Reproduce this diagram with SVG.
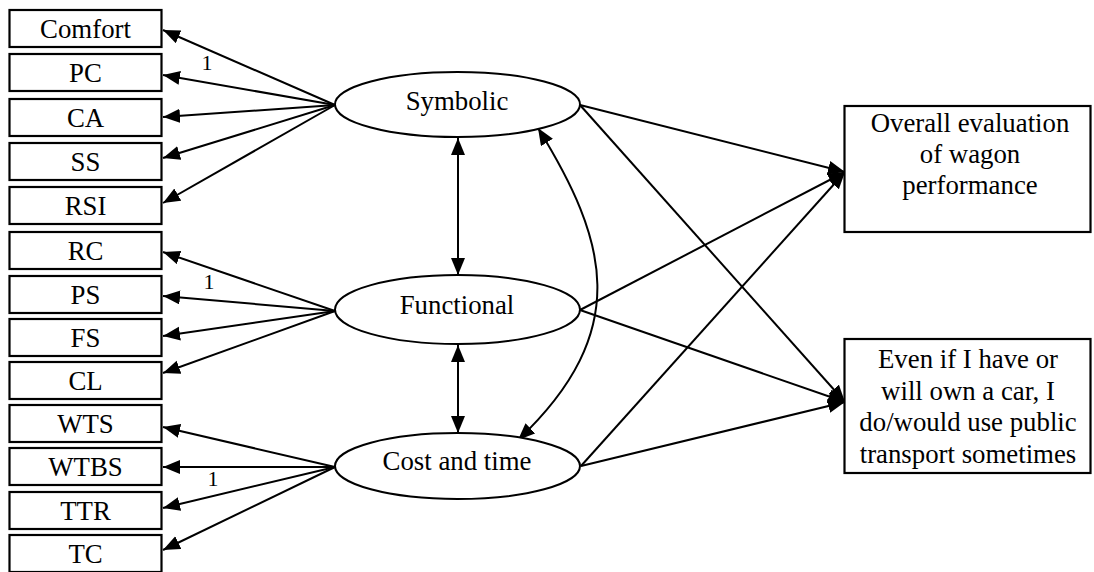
<svg xmlns="http://www.w3.org/2000/svg" width="1094" height="572" viewBox="0 0 1094 572">
<style>
  .box { fill: #fff; stroke: #000; stroke-width: 2.2; }
  .ell { fill: #fff; stroke: #000; stroke-width: 2; }
  .t { font-family: "Liberation Serif", "Times New Roman", serif; font-size: 26.8px; fill: #000; text-anchor: middle; }
  .n { font-family: "Liberation Serif", "Times New Roman", serif; font-size: 22px; fill: #000; text-anchor: middle; }
  .c { fill: none; stroke: #000; stroke-width: 2; }
  .a { marker-end: url(#ah); }
  .b { marker-start: url(#ah); marker-end: url(#ah); }
</style>
<defs>
  <marker id="ah" markerUnits="userSpaceOnUse" markerWidth="20" markerHeight="16" refX="17" refY="7" orient="auto-start-reverse">
    <path d="M0,0 L17,7 L0,14 z" fill="#000"/>
  </marker>
</defs>
<rect width="1094" height="572" fill="#fff"/>

<g id="connectors">
  <line class="c a" x1="335" y1="105" x2="163" y2="30"/>
  <line class="c a" x1="335" y1="105" x2="163" y2="75"/>
  <line class="c a" x1="335" y1="105" x2="163" y2="117"/>
  <line class="c a" x1="335" y1="105" x2="163" y2="158"/>
  <line class="c a" x1="335" y1="105" x2="163" y2="203"/>
  <line class="c a" x1="335" y1="311" x2="163" y2="252"/>
  <line class="c a" x1="335" y1="311" x2="163" y2="296"/>
  <line class="c a" x1="335" y1="311" x2="163" y2="336"/>
  <line class="c a" x1="335" y1="311" x2="163" y2="373"/>
  <line class="c a" x1="335" y1="467" x2="163" y2="427"/>
  <line class="c a" x1="335" y1="467" x2="163" y2="467"/>
  <line class="c a" x1="335" y1="467" x2="163" y2="508"/>
  <line class="c a" x1="335" y1="467" x2="163" y2="550"/>
  <line class="c b" x1="458" y1="138" x2="458" y2="275"/>
  <line class="c b" x1="458" y1="345" x2="458" y2="433"/>
  <path class="c b" d="M538,128 C607,240 634,330 518,440"/>
  <line class="c a" x1="580" y1="105" x2="845" y2="172"/>
  <line class="c a" x1="580" y1="105" x2="845" y2="402"/>
  <line class="c a" x1="580" y1="310" x2="845" y2="172"/>
  <line class="c a" x1="580" y1="310" x2="845" y2="402"/>
  <line class="c a" x1="581" y1="466" x2="845" y2="172"/>
  <line class="c a" x1="581" y1="466" x2="845" y2="402"/>
  <text class="n" x="207" y="70">1</text>
  <text class="n" x="209" y="289">1</text>
  <text class="n" x="213" y="486">1</text>
</g>

<g id="comfort"><rect class="box" x="9.5" y="10" width="152" height="37"/><text class="t" x="85.5" y="38">Comfort</text></g>
<g id="pc"><rect class="box" x="9.5" y="54" width="152" height="37"/><text class="t" x="85.5" y="82">PC</text></g>
<g id="ca"><rect class="box" x="9.5" y="99" width="152" height="37"/><text class="t" x="85.5" y="127">CA</text></g>
<g id="ss"><rect class="box" x="9.5" y="143" width="152" height="37"/><text class="t" x="85.5" y="171">SS</text></g>
<g id="rsi"><rect class="box" x="9.5" y="187" width="152" height="37"/><text class="t" x="85.5" y="215">RSI</text></g>
<g id="rc"><rect class="box" x="9.5" y="232" width="152" height="37"/><text class="t" x="85.5" y="260">RC</text></g>
<g id="ps"><rect class="box" x="9.5" y="276" width="152" height="37"/><text class="t" x="85.5" y="304">PS</text></g>
<g id="fs"><rect class="box" x="9.5" y="319" width="152" height="37"/><text class="t" x="85.5" y="347">FS</text></g>
<g id="cl"><rect class="box" x="9.5" y="362" width="152" height="37"/><text class="t" x="85.5" y="390">CL</text></g>
<g id="wts"><rect class="box" x="9.5" y="405" width="152" height="37"/><text class="t" x="85.5" y="433">WTS</text></g>
<g id="wtbs"><rect class="box" x="9.5" y="448" width="152" height="37"/><text class="t" x="85.5" y="476">WTBS</text></g>
<g id="ttr"><rect class="box" x="9.5" y="492" width="152" height="37"/><text class="t" x="85.5" y="520">TTR</text></g>
<g id="tc"><rect class="box" x="9.5" y="535" width="152" height="37"/><text class="t" x="85.5" y="563">TC</text></g>

<g id="symbolic"><ellipse class="ell" cx="457.5" cy="104.5" rx="122.5" ry="32.5"/><text class="t" x="457" y="110">Symbolic</text></g>
<g id="functional"><ellipse class="ell" cx="457.5" cy="309.5" rx="122.5" ry="34.5"/><text class="t" x="457" y="314">Functional</text></g>
<g id="cost"><ellipse class="ell" cx="457.5" cy="466" rx="122.5" ry="33"/><text class="t" x="457" y="470">Cost and time</text></g>

<g id="overall"><rect class="box" x="844.5" y="106" width="246" height="126"/>
  <text class="t" x="970" y="132">Overall evaluation</text>
  <text class="t" x="970" y="163">of wagon</text>
  <text class="t" x="970" y="194">performance</text>
</g>
<g id="even"><rect class="box" x="844.5" y="339" width="246" height="134"/>
  <text class="t" x="968" y="368">Even if I have or</text>
  <text class="t" x="968" y="400">will own a car, I</text>
  <text class="t" x="968" y="431">do/would use public</text>
  <text class="t" x="968" y="463">transport sometimes</text>
</g>
</svg>
